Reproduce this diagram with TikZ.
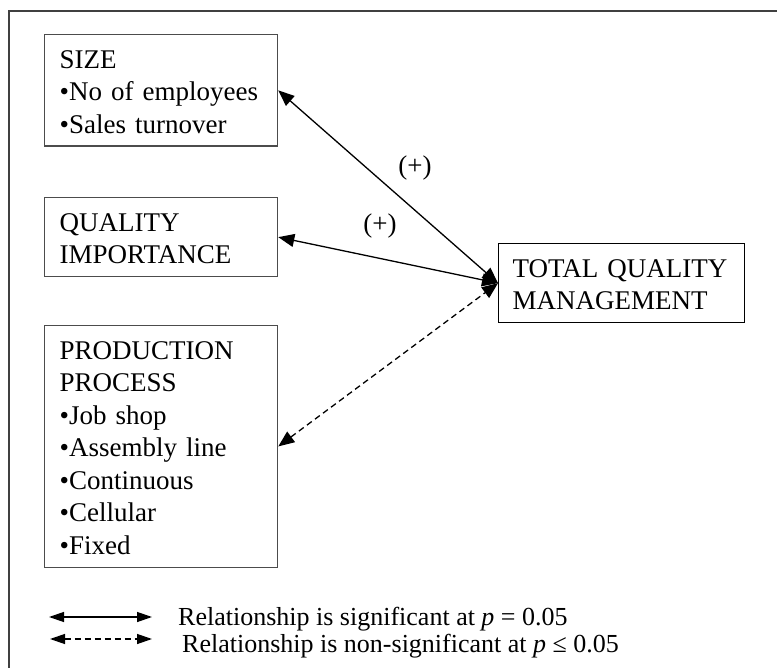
\documentclass[tikz,border=0pt]{standalone}
\usepackage{fontspec}
\setmainfont{Liberation Serif}
\usetikzlibrary{arrows.meta}
\newcommand{\mystrut}{\vrule height 26.5pt depth 6pt width 0pt}
\begin{document}
\begin{tikzpicture}[x=1pt,y=-1pt,
  every node/.style={font=\fontsize{27}{32.5}\selectfont},
  factorbox/.style={draw=black!70, line width=1.3pt, rectangle, anchor=north west,
     inner xsep=15pt, inner ysep=7pt, text width=203pt, align=left},
  tqmbox/.style={draw=black, line width=1.3pt, rectangle, anchor=north west,
     inner xsep=14pt, inner ysep=7pt, text width=218pt, align=left},
  biarrow/.style={line width=1.3pt, {Triangle[length=16pt,width=13pt]}-{Triangle[length=16pt,width=13pt]}},
  legarrow/.style={line width=1.3pt, {Triangle[length=15pt,width=10pt]}-{Triangle[length=15pt,width=10pt]}},
  nsdash/.style={dash pattern=on 6pt off 4pt},
  lbl/.style={inner sep=0pt},
  legtext/.style={inner sep=0pt, anchor=base west, font=\fontsize{26}{28}\selectfont}
]
\useasboundingbox (0,0) rectangle (777,668);
% outer frame (cut on the right and bottom)
\draw[line width=2pt, black!75] (9,668) -- (9,11) -- (777,11);

\node[factorbox] (size) at (44,34) {\mystrut SIZE\\ •No of employees\\ •Sales turnover\mystrut};
\node[factorbox] (qual) at (44,197) {\mystrut QUALITY\\ IMPORTANCE\mystrut};
\node[factorbox] (prod) at (44,325) {\mystrut PRODUCTION\\ PROCESS\\ •Job shop\\ •Assembly line\\ •Continuous\\ •Cellular\\ •Fixed\mystrut};
\node[tqmbox] (tqm) at (498,243) {\mystrut TOTAL QUALITY\\ MANAGEMENT\mystrut};

\draw[biarrow] (size.east) -- (tqm.west);
\draw[biarrow] (qual.east) -- (tqm.west);
\draw[biarrow, nsdash] (prod.east) -- (tqm.west);

\node[lbl] (plus1) at (415,168) {(+)};
\node[lbl] (plus2) at (380,226) {(+)};

% legend
\coordinate (la1) at (49,617);
\coordinate (lb1) at (152,617);
\coordinate (la2) at (50,639);
\coordinate (lb2) at (152,639);
\draw[legarrow] (la1) -- (lb1);
\draw[legarrow, nsdash] (la2) -- (lb2);
\node[legtext] (leg1) at (178,625) {Relationship is significant at \textit{p} = 0.05};
\node[legtext] (leg2) at (182,652) {Relationship is non-significant at \textit{p} ≤ 0.05};
\end{tikzpicture}
\end{document}
